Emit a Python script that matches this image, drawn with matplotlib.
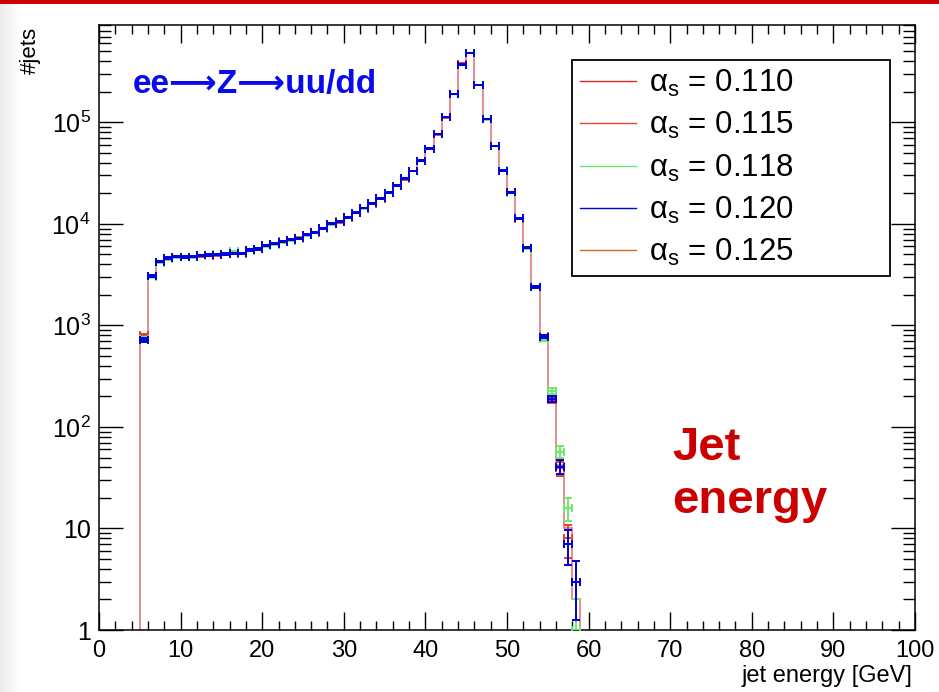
import numpy as np
import matplotlib
matplotlib.use("Agg")
import matplotlib.pyplot as plt
from matplotlib.lines import Line2D
from matplotlib.ticker import MultipleLocator, LogLocator, NullFormatter

plt.rcParams['font.family'] = ['Liberation Sans', 'DejaVu Sans']
plt.rcParams['mathtext.fontset'] = 'custom'
plt.rcParams['mathtext.rm'] = 'Liberation Sans'
plt.rcParams['mathtext.it'] = 'Liberation Sans:italic'
plt.rcParams['mathtext.bf'] = 'Liberation Sans:bold'

NARROW = ['Liberation Sans Narrow', 'Liberation Sans', 'DejaVu Sans']

# 1 GeV bins, jet energy 5 .. 59 GeV
bin_lo = 5
bin_hi = 59

# jet counts per bin for each alpha_s value
n_110 = [780, 3075, 4250, 4620, 4750, 4730, 4760, 4900, 4950, 4990, 5050, 5130, 5130,
         5540, 5650, 6150, 6350, 6700, 6950, 7250, 7800, 8300, 9050, 10000, 10550,
         11650, 12900, 14300, 16000, 17900, 20300, 23800, 28000, 33300, 42000, 55200,
         76600, 113000, 190000, 371000, 481000, 234000, 107500, 58700, 33500, 20500,
         11400, 5800, 2410, 776, 189, 42, 10, 2]
n_115 = [800, 3050, 4200, 4600, 4720, 4700, 4740, 4800, 4850, 4950, 5000, 5100, 5100,
         5500, 5600, 6100, 6300, 6650, 6900, 7150, 7700, 8150, 8950, 9900, 10400,
         11500, 12800, 14000, 15800, 17700, 20200, 23600, 27500, 33000, 41800, 55000,
         76000, 112000, 190000, 380000, 478000, 233000, 107000, 58500, 33300, 20400,
         11300, 5780, 2400, 770, 185, 39, 8, np.nan]
n_118 = [740, 3000, 4150, 4500, 4700, 4680, 4700, 4850, 4900, 5000, 5100, 5350, 5150,
         5450, 5600, 6050, 6250, 6600, 6850, 7150, 7700, 8250, 9000, 9950, 10500,
         11600, 12850, 14200, 15900, 17800, 20200, 23700, 27900, 33200, 41900, 55000,
         76400, 112500, 189000, 370000, 480000, 233500, 107000, 58500, 33600, 20300,
         11350, 5700, 2380, 730, 228, 57, 15.8, 1]
n_120 = [720, 3075, 4250, 4620, 4750, 4730, 4760, 4900, 4950, 4990, 5050, 5130, 5130,
         5540, 5650, 6150, 6350, 6700, 6950, 7250, 7800, 8300, 9050, 10000, 10550,
         11650, 12900, 14300, 16000, 17900, 20300, 23800, 28000, 33300, 42000, 55200,
         76600, 113000, 190000, 371000, 481000, 234000, 107500, 58700, 33500, 20500,
         11400, 5800, 2410, 776, 189, 40.6, 7, 3]
n_125 = [730, 3080, 4260, 4630, 4760, 4740, 4770, 4910, 4960, 5000, 5060, 5140, 5140,
         5550, 5660, 6160, 6360, 6710, 6960, 7260, 7810, 8310, 9060, 10010, 10560,
         11660, 12910, 14310, 16010, 17910, 20310, 23810, 28010, 33310, 42010, 55210,
         76610, 113010, 190010, 371010, 481010, 234010, 107510, 58710, 33510, 20510,
         11410, 5810, 2415, 778, 190, 41, 7, 3]

alpha_labels = ['0.110', '0.115', '0.118', '0.120', '0.125']
colors = ['#d42a22', '#e2452f', '#6ee86e', '#0000dd', '#d2691e']

x_ticks = [0, 10, 20, 30, 40, 50, 60, 70, 80, 90, 100]
y_ticks = [1, 10, 1e2, 1e3, 1e4, 1e5]
y_tick_labels = ['1', '10', r'$10^{2}$', r'$10^{3}$', r'$10^{4}$', r'$10^{5}$']

edges = np.arange(bin_lo, bin_hi + 1, 1.0)
centers = edges[:-1] + 0.5

W, H = 939, 692
fig = plt.figure(figsize=(W / 100, H / 100), dpi=100)
fig.patch.set_facecolor('white')

# slide decorations: red rule along the top, pale shading on the left edge
deco = fig.add_axes([0, 0, 1, 1], zorder=-5)
deco.set_xlim(0, W)
deco.set_ylim(H, 0)
deco.axis('off')
grad = np.linspace(0.925, 1.0, 64)[None, :]
deco.imshow(np.repeat(grad, 2, axis=0), cmap='gray', vmin=0, vmax=1,
            extent=[0, 22, H, 4], aspect='auto')
deco.add_patch(plt.Rectangle((0, 0), W, 4, color='#cc0000', lw=0))

ax = fig.add_axes([99 / W, (H - 630) / H, 816 / W, 605 / H])
ax.set_yscale('log')
ax.set_xlim(0, 100)
ax.set_ylim(1, 9.1e5)

# histogram outline for the first sample
ax.stairs(n_110, edges, baseline=1e-3, color='#e07c7c', lw=1.2, zorder=2)

def draw_points(counts, color, z):
    counts = np.asarray(counts, dtype=float)
    err = np.sqrt(counts)
    lo = np.minimum(err, counts * 0.999)
    ax.errorbar(centers, counts, xerr=0.5, yerr=[lo, err], fmt='none',
                ecolor=color, elinewidth=1.4, capsize=3, capthick=1.4, zorder=z)

draw_points(n_125, colors[4], 3)
draw_points(n_115, colors[1], 4)
draw_points(n_118, colors[2], 5)
draw_points(n_120, colors[3], 6)

# axes styling
for s in ax.spines.values():
    s.set_linewidth(1.1)
ax.set_xticks(x_ticks, labels=[str(t) for t in x_ticks], fontfamily=NARROW)
ax.xaxis.set_minor_locator(MultipleLocator(2))
ax.set_yticks(y_ticks, labels=y_tick_labels)
ax.yaxis.set_minor_locator(LogLocator(base=10, subs=np.arange(2, 10)))
ax.yaxis.set_minor_formatter(NullFormatter())
ax.tick_params(which='both', direction='in', top=True, right=True, width=1.0, colors='black')
ax.tick_params(axis='x', which='major', length=13, labelsize=17, pad=7)
ax.tick_params(axis='x', which='minor', length=6.5)
ax.tick_params(axis='y', which='major', length=17, labelsize=18, pad=6)
ax.tick_params(axis='y', which='minor', length=8.6)

fig.text(30 / W, 1 - 27 / H, '#jets', rotation=90, ha='center', va='top', fontsize=16)
fig.text(912 / W, 1 - 676 / H, 'jet energy [GeV]', ha='right', va='center',
         fontsize=17, family=NARROW)

ax.text(0.0417, 0.887, 'ee⟶Z⟶uu/dd', transform=ax.transAxes, color='#0a0aee',
        fontsize=24, fontweight='bold', ha='left', va='baseline')
ax.text(0.702, 0.281, 'Jet', transform=ax.transAxes, color='#cc0000',
        fontsize=34, fontweight='bold', ha='left', va='baseline')
ax.text(0.702, 0.193, 'energy', transform=ax.transAxes, color='#cc0000',
        fontsize=34, fontweight='bold', ha='left', va='baseline')

handles = [Line2D([], [], color=c, lw=1.0) for c in colors]
labels = ['α$_{\\mathrm{s}}$ = ' + a for a in alpha_labels]
leg = ax.legend(handles, labels, loc='upper left',
                bbox_to_anchor=(572 / W, 1 - 273 / H, 318 / W, 213 / H),
                bbox_transform=fig.transFigure, mode='expand', borderaxespad=0,
                frameon=True, fancybox=False, framealpha=1, edgecolor='black',
                fontsize=22.5, handlelength=1.8, handletextpad=0.42,
                labelspacing=0.36, borderpad=0.25)
leg.get_frame().set_linewidth(1.3)
leg.set_zorder(10)

fig.savefig('out.png', dpi=100)
